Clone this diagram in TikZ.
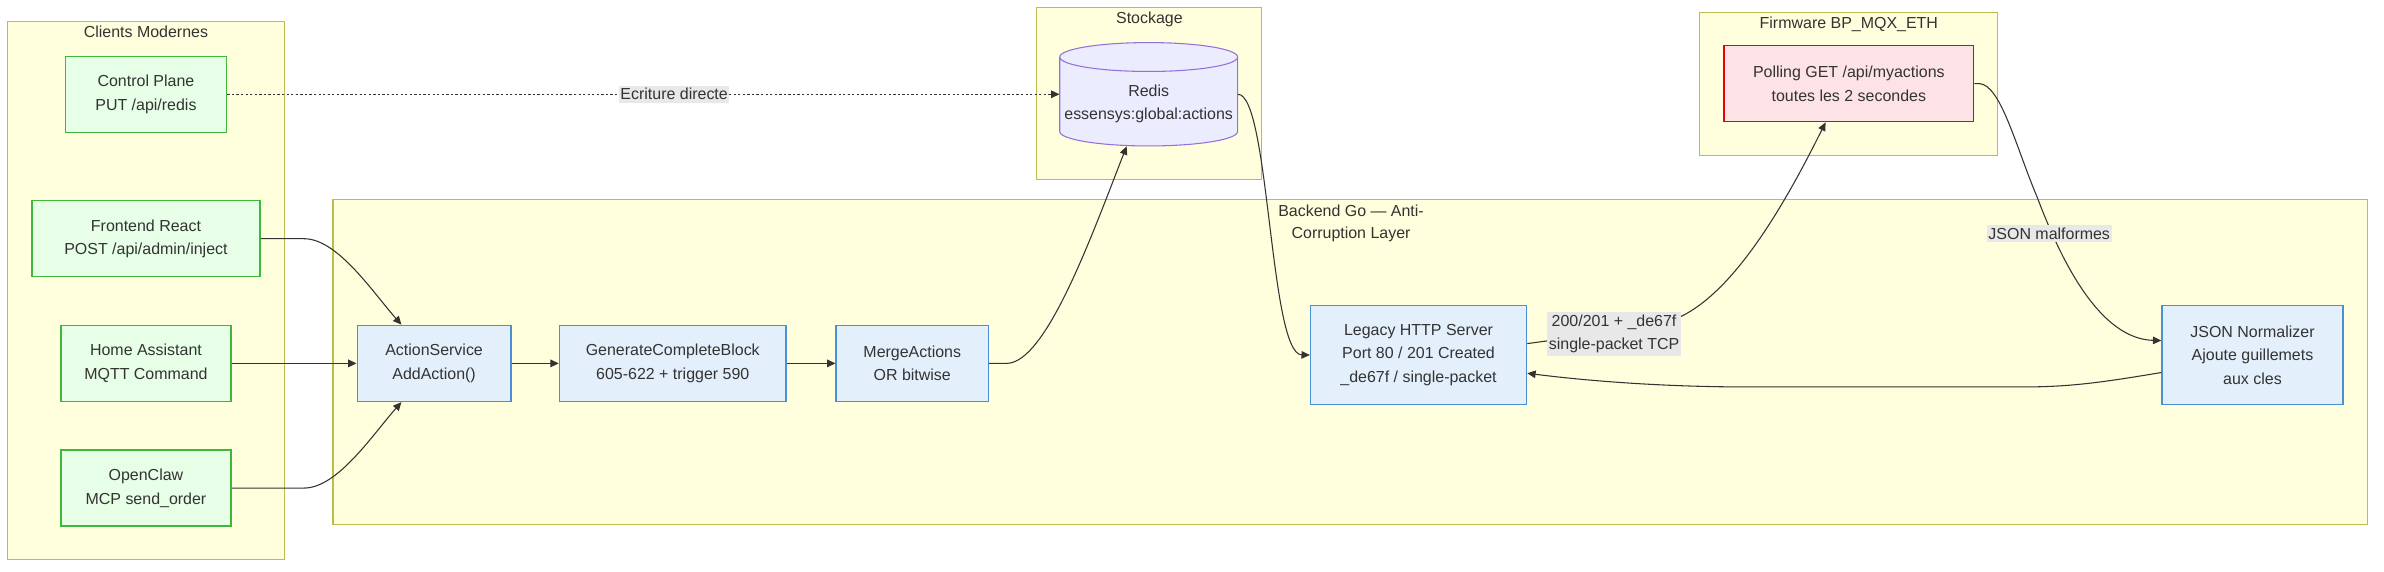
\documentclass[tikz,border=0pt]{standalone}
\usepackage{fontspec}
\setmainfont{Liberation Sans}
\usetikzlibrary{arrows.meta}
\definecolor{clfill}{HTML}{FFFFDE}
\definecolor{clstroke}{HTML}{BDBD4E}
\definecolor{gfill}{HTML}{E6FFE6}
\definecolor{gstroke}{HTML}{3DB83D}
\definecolor{bfill}{HTML}{E3F0FC}
\definecolor{bstroke}{HTML}{4A90D9}
\definecolor{rfill}{HTML}{FDE3E5}
\definecolor{rstroke}{HTML}{E8000B}
\definecolor{dbfill}{HTML}{ECECFF}
\definecolor{dbstroke}{HTML}{9370DB}
\definecolor{txtc}{HTML}{333333}
\definecolor{lblbg}{HTML}{E8E8E8}
\definecolor{edgec}{HTML}{333333}
\begin{document}
\begin{tikzpicture}[x=1pt,y=-1pt,
  every node/.style={font=\fontsize{10.5}{15.5}\selectfont, text=txtc},
  box/.style={rectangle, align=center, inner sep=0pt, line width=1pt},
  gbox/.style={box, draw=gstroke, fill=gfill, minimum height=50pt},
  bbox/.style={box, draw=bstroke, fill=bfill},
  rbox/.style={box, draw=rstroke, fill=rfill, minimum height=50pt},
  cluster/.style={draw=clstroke, fill=clfill, line width=0.7pt},
  ctitle/.style={align=center, inner sep=0pt, font=\fontsize{10.5}{14.5}\selectfont},
  arr/.style={draw=edgec, line width=0.7pt, -{Triangle[length=5.5pt,width=5pt]}},
  dotarr/.style={arr, dash pattern=on 1.5pt off 1.5pt},
  elabel/.style={fill=lblbg, inner xsep=1pt, inner ysep=1.7pt, align=center}
]
\fill[white] (0,0) rectangle (1568,375.6);
\useasboundingbox (0,0) rectangle (1568,375.6);

% clusters
\draw[cluster] (5,14) rectangle (187,368);
\draw[cluster] (682,5) rectangle (830,118);
\draw[cluster] (1118,8) rectangle (1314,102);
\draw[cluster] (219,131) rectangle (1557,345);
\node[ctitle] (tclients) at (96,21) {Clients Modernes};
\node[ctitle] (tstock) at (756,12.5) {Stockage};
\node[ctitle] (tfirm) at (1216,16) {Firmware BP\_MQX\_ETH};
\node[ctitle] (tback) at (888.6,147) {Backend Go — Anti-\\Corruption Layer};

% nodes
\node[gbox, minimum width=106pt] (cp) at (96,62) {Control Plane\\PUT /api/redis};
\node[gbox, minimum width=150pt] (fe) at (96,157) {Frontend React\\POST /api/admin/inject};
\node[gbox, minimum width=112pt] (ha) at (96,239) {Home Assistant\\MQTT Command};
\node[gbox, minimum width=112pt] (oc) at (96,321) {OpenClaw\\MCP send\_order};

\node[bbox, minimum width=101pt, minimum height=50pt] (as) at (285.5,239) {ActionService\\AddAction()};
\node[bbox, minimum width=149pt, minimum height=50pt] (gcb) at (442.5,239) {GenerateCompleteBlock\\605-622 + trigger 590};
\node[bbox, minimum width=100pt, minimum height=50pt] (ma) at (600,239) {MergeActions\\OR bitwise};
\node[bbox, minimum width=142pt, minimum height=65pt] (legacy) at (933,233.5) {Legacy HTTP Server\\Port 80 / 201 Created\\\_de67f / single-packet};
\node[bbox, minimum width=119pt, minimum height=65pt] (jn) at (1481.5,233.5) {JSON Normalizer\\Ajoute guillemets\\aux cles};
\node[rbox, minimum width=164pt] (poll) at (1216,55) {Polling GET /api/myactions\\toutes les 2 secondes};

% redis cylinder
\node[rectangle, minimum width=117pt, minimum height=68pt, inner sep=0pt] (redis) at (755.5,62) {};
\filldraw[draw=dbstroke, fill=dbfill, line width=0.7pt]
  (697,37.5) -- (697,86.5) arc[start angle=180, end angle=360, x radius=58.5pt, y radius=9.5pt]
  -- (814,37.5) arc[start angle=0, end angle=180, x radius=58.5pt, y radius=9.5pt] -- cycle;
\draw[draw=dbstroke, line width=0.7pt] (697,37.5) arc[start angle=180, end angle=360, x radius=58.5pt, y radius=9.5pt];
\node[align=center, inner sep=0pt] (redistxt) at (755.5,68.3) {Redis\\essensys:global:actions};

% edges
\draw[dotarr] (cp.east) -- node[elabel, pos=0.537, solid] (lbl1) {Ecriture directe} (redis.west);
\draw[arr] (fe.east) -- (200,157) .. controls (222,157) and (245,192) .. ([xshift=-21.5pt]as.north);
\draw[arr] (ha.east) -- (as.west);
\draw[arr] (oc.east) -- (200,321) .. controls (222,321) and (245,286) .. ([xshift=-21.5pt]as.south);
\draw[arr] (as.east) -- (gcb.west);
\draw[arr] (gcb.east) -- (ma.west);
\draw[arr] (ma.east) -- (662,239) .. controls (688,239) and (718,155) .. ([xshift=-14.5pt]redis.south);
\draw[arr] (redis.east) .. controls (835,62) and (835,233) .. (legacy.west);
\draw[arr] ([yshift=7.5pt]legacy.east) .. controls (1040,221) and (1075,218) .. (1100,210.5)
  .. controls (1140,196) and (1176,130) .. ([xshift=-15.3pt]poll.south);
\node[elabel] (lbl2) at (1061.6,219.5) {200/201 + \_de67f\\single-packet TCP};
\draw[arr] (poll.east) -- (1302,55) .. controls (1316,56) and (1326,97) .. (1340,130)
  .. controls (1360,183) and (1385,223) .. ([yshift=9.5pt]jn.west);
\node[elabel] (lbl3) at (1347.8,153.7) {JSON malformes};
\draw[arr] ([yshift=-11.5pt]jn.west) .. controls (1380,252) and (1360,254.5) .. (1330,254.5)
  -- (1150,254.5) .. controls (1090,254.5) and (1040,250) .. ([yshift=-12pt]legacy.east);
\end{tikzpicture}
\end{document}
